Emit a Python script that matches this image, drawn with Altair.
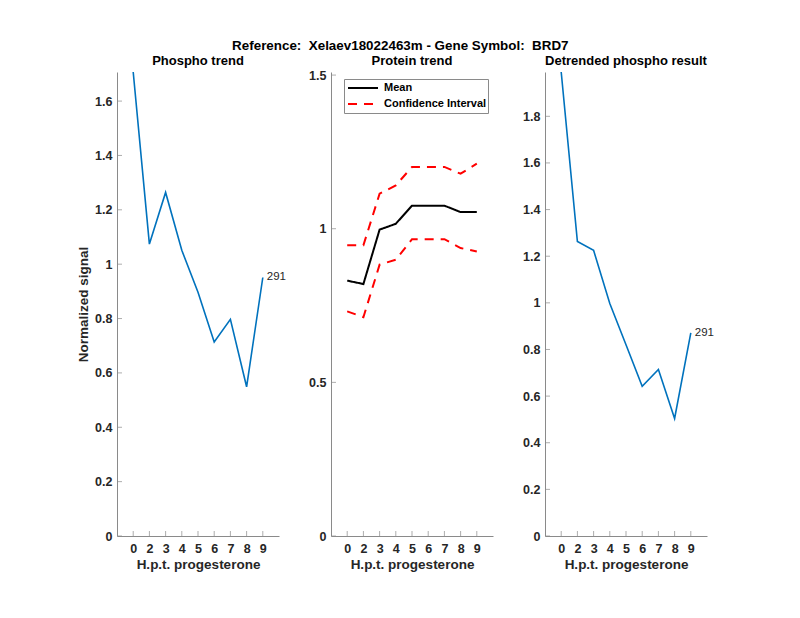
import altair as alt
import pandas as pd

# ---- data ----
x_pos = [1, 2, 3, 4, 5, 6, 7, 8, 9]
x_labels = ["0", "2", "3", "4", "5", "6", "7", "8", "9"]

phospho = [1.707, 1.074, 1.264, 1.051, 0.897, 0.714, 0.797, 0.549, 0.951]
prot_mean = [0.831, 0.820, 0.997, 1.016, 1.075, 1.075, 1.075, 1.054, 1.054]
prot_upper = [0.946, 0.946, 1.114, 1.141, 1.201, 1.201, 1.201, 1.179, 1.212]
prot_lower = [0.731, 0.712, 0.883, 0.899, 0.966, 0.966, 0.966, 0.937, 0.926]
detrended = [1.99, 1.263, 1.225, 0.997, 0.82, 0.642, 0.714, 0.504, 0.871]

site_label = "291"

left_yticks = [0, 0.2, 0.4, 0.6, 0.8, 1.0, 1.2, 1.4, 1.6]
mid_yticks = [0, 0.5, 1.0, 1.5]
right_yticks = [0, 0.2, 0.4, 0.6, 0.8, 1.0, 1.2, 1.4, 1.6, 1.8]

main_title = "Reference: \u00a0Xelaev18022463m - Gene Symbol: \u00a0BRD7"

# ---- style ----
FONT = "Liberation Sans"
GRAY = "#8a8a8a"
TXT = "#262626"
BLUE = "#0072BD"
W, H = 162, 464
TICK_FS = 12.5
AXT_FS = 13.5

label_expr = "[" + ",".join(f"'{l}'" for l in x_labels) + "][datum.value - 1]"


def x_enc():
    return alt.X(
        "x:Q",
        scale=alt.Scale(domain=[0, 10], nice=False, zero=False),
        axis=alt.Axis(
            values=x_pos, labelExpr=label_expr, title="H.p.t. progesterone",
            ticks=False, grid=False, domainColor=GRAY, labelPadding=6,
            labelFont=FONT, labelFontSize=TICK_FS, labelFontWeight="bold", labelColor=TXT,
            titleFont=FONT, titleFontSize=AXT_FS, titleFontWeight="bold", titleColor=TXT,
            titlePadding=3, labelFlush=False,
        ),
    )


def y_enc(domain, ticks, title):
    return alt.Y(
        "y:Q",
        scale=alt.Scale(domain=domain, nice=False, zero=False),
        axis=alt.Axis(
            values=ticks, format="~g", title=title,
            ticks=False, grid=False, domainColor=GRAY, labelPadding=5,
            labelFont=FONT, labelFontSize=TICK_FS, labelFontWeight="bold", labelColor=TXT,
            titleFont=FONT, titleFontSize=AXT_FS, titleFontWeight="bold", titleColor=TXT,
            titlePadding=4, labelFlush=False,
        ),
    )


def tick_layers(domain, ticks, title):
    xt = alt.Chart(pd.DataFrame({"x": x_pos})).mark_tick(
        orient="vertical", size=5, thickness=1, color=GRAY
    ).encode(x=x_enc(), y=alt.value(H - 2.5))
    yt = alt.Chart(pd.DataFrame({"y": ticks})).mark_tick(
        orient="horizontal", size=5, thickness=1, color=GRAY
    ).encode(y=y_enc(domain, ticks, title), x=alt.value(2.5))
    return [xt, yt]


def panel_title(text):
    return alt.TitleParams(text, font=FONT, fontSize=13, fontWeight="bold",
                           color="black", offset=1)


def single_panel(values, domain, ticks, ytitle, ptitle):
    df = pd.DataFrame({"x": x_pos, "y": values})
    line = alt.Chart(df).mark_line(color=BLUE, strokeWidth=1.6).encode(
        x=x_enc(), y=y_enc(domain, ticks, ytitle)
    )
    lab = alt.Chart(df.tail(1).assign(t=site_label)).mark_text(
        align="left", baseline="middle", dx=4, font=FONT, fontSize=11.5, color=TXT
    ).encode(x=x_enc(), y=y_enc(domain, ticks, ytitle), text="t:N")
    return alt.layer(line, lab, *tick_layers(domain, ticks, ytitle)).properties(
        width=W, height=H, title=panel_title(ptitle),
    )


p1 = single_panel(phospho, [0, 1.707], left_yticks, "Normalized signal", "Phospho trend")
p3 = single_panel(detrended, [0, 1.99], right_yticks, None, "Detrended phospho result")

series_order = ["Mean", "Confidence Interval"]
rows = []
for name, lid, vals in [("Mean", "mean", prot_mean),
                        ("Confidence Interval", "upper", prot_upper),
                        ("Confidence Interval", "lower", prot_lower)]:
    for xv, yv in zip(x_pos, vals):
        rows.append({"x": xv, "y": yv, "series": name, "line": lid})
prot_df = pd.DataFrame(rows)

mid_domain = [0, 1.51]
leg = alt.Legend(
    title=None, orient="none", legendX=13, legendY=7,
    symbolType="stroke", symbolSize=900, symbolStrokeWidth=2, clipHeight=16,
    strokeColor=GRAY, fillColor="white", padding=1, rowPadding=0, symbolOffset=2,
    labelFont=FONT, labelFontSize=11, labelFontWeight="bold", labelColor="black",
    labelOffset=5,
)
prot_lines = alt.Chart(prot_df).mark_line(strokeWidth=2).encode(
    x=x_enc(),
    y=y_enc(mid_domain, mid_yticks, None),
    color=alt.Color("series:N", scale=alt.Scale(domain=series_order, range=["black", "red"]),
                    legend=leg),
    strokeDash=alt.StrokeDash("series:N", scale=alt.Scale(domain=series_order,
                                                          range=[[1, 0], [9, 7]]),
                              legend=leg),
    detail="line:N",
)
p2 = alt.layer(prot_lines, *tick_layers(mid_domain, mid_yticks, None)).properties(
    width=W, height=H, title=panel_title("Protein trend"),
)

chart = alt.hconcat(p1, p2, p3, spacing=52, bounds="flush").resolve_scale(
    x="independent", y="independent", color="independent", strokeDash="independent"
).properties(
    title=alt.TitleParams(main_title, font=FONT, fontSize=13.4, fontWeight="bold",
                          color="black", anchor="middle", offset=2, dx=5),
    padding={"left": 68, "top": 31, "right": 5, "bottom": 5},
    background="white",
).configure_view(stroke=None)

chart.save("out.html", embed_options={"renderer": "svg", "actions": False})
